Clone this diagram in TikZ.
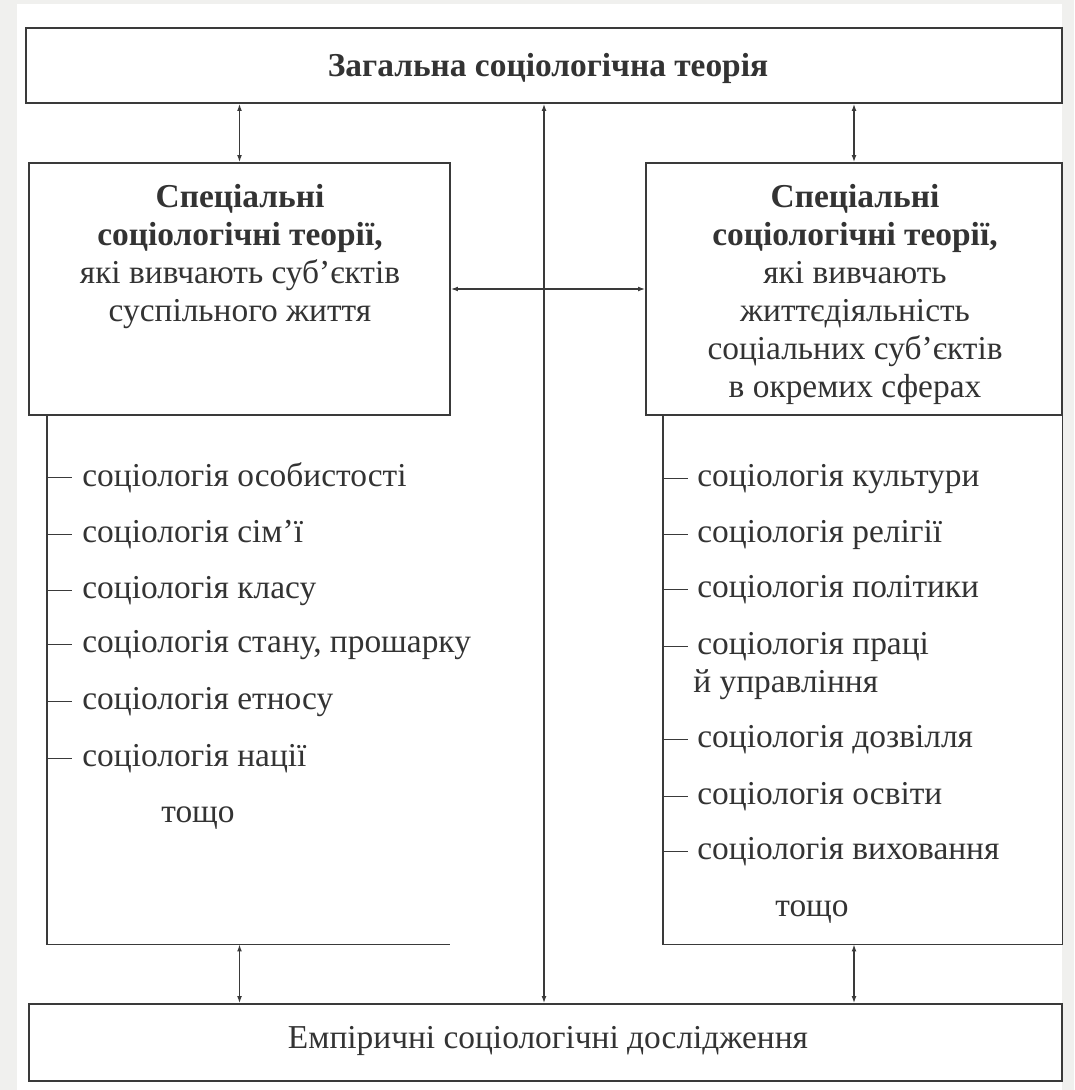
\documentclass[tikz,border=0pt]{standalone}
\usepackage{fontspec}
\setmainfont{Liberation Serif}
\usetikzlibrary{arrows.meta}
\definecolor{bgc}{HTML}{F0F0EE}
\definecolor{linec}{HTML}{3A3A3A}
\definecolor{txtc}{HTML}{333333}
\begin{document}
\begin{tikzpicture}[x=0.5pt,y=-0.5pt,
  box/.style={draw=linec, line width=0.9pt, fill=white, inner sep=0pt},
  panel/.style={inner sep=0pt},
  edge/.style={draw=linec, line width=0.9pt},
  link/.style={draw=linec, line width=0.6pt, {Latex[length=3.5pt,width=2.4pt]}-{Latex[length=3.5pt,width=2.4pt]}},
  tick/.style={draw=linec, line width=0.6pt},
  txt/.style={text=txtc, font=\fontsize{16.7}{19}\selectfont, inner sep=0pt},
  head/.style={txt, align=center},
  item/.style={txt, anchor=base west, align=left}
]
% background and margins
\fill[bgc] (0,0) rectangle (1074,1090);
\fill[white] (17,4) rectangle (1062,1090);
\useasboundingbox (0,0) rectangle (1074,1090);

% main boxes
\node[box, minimum width=518pt, minimum height=37.5pt] (top) at (544,65.5) {};
\node[box, minimum width=210.5pt, minimum height=126pt] (lb) at (239.5,289) {};
\node[box, minimum width=208pt, minimum height=126pt] (rb) at (854,289) {};
\node[box, minimum width=516.5pt, minimum height=38.5pt] (bot) at (545.5,1042.5) {};

% list panels
\node[panel, minimum width=201.5pt, minimum height=264.5pt] (lp) at (248.5,679.5) {};
\node[panel, minimum width=199.5pt, minimum height=264.5pt] (rp) at (862.5,679.5) {};
\draw[edge] (lp.north west) -- (lp.south west) -- (lp.south east);
\draw[edge] (rp.north west) -- (rp.south west) -- (rp.south east) -- (rp.north east);

% texts in boxes
\node[txt, font=\fontsize{16.7}{19}\selectfont\bfseries] (toptxt) at (548,68) {Загальна соціологічна теорія};
\node[txt] (bottxt) at (548,1041) {Емпіричні соціологічні дослідження};
\node[head] (lbt) at (240,257) {\textbf{Спеціальні}\\\textbf{соціологічні теорії,}\\які вивчають суб’єктів\\суспільного життя};
\node[head] (rbt) at (855,294) {\textbf{Спеціальні}\\\textbf{соціологічні теорії,}\\які вивчають\\життєдіяльність\\соціальних суб’єктів\\в окремих сферах};

% connectors
\draw[link] (lb.north) -- (lb.north |- top.south);
\draw[link] (rb.north) -- (rb.north |- top.south);
\draw[link] (top.south) -- (top.south |- bot.north);
\draw[link] (lb.east) -- (rb.west);
\draw[link] (lb.south |- lp.south) -- (lb.south |- bot.north);
\draw[link] (rb.south |- rp.south) -- (rb.south |- bot.north);

% left list
\node[item] (l1) at (82,486) {соціологія особистості};
\node[item] (l2) at (82,542) {соціологія сім’ї};
\node[item] (l3) at (82,598) {соціологія класу};
\node[item] (l4) at (82,652) {соціологія стану, прошарку};
\node[item] (l5) at (82,709) {соціологія етносу};
\node[item] (l6) at (82,766) {соціологія нації};
\node[txt, anchor=base] (l7) at (198,822) {тощо};
\foreach \n in {l1,l2,l3,l4,l5,l6}
  \draw[tick] (lp.west |- \n.west) -- ++(25,0);

% right list
\node[item] (r1) at (697,486) {соціологія культури};
\node[item] (r2) at (697,542) {соціологія релігії};
\node[item] (r3) at (697,597) {соціологія політики};
\node[item] (r4) at (697,654) {соціологія праці};
\node[item] (r4b) at (693,692) {й управління};
\node[item] (r5) at (697,747) {соціологія дозвілля};
\node[item] (r6) at (697,804) {соціологія освіти};
\node[item] (r7) at (697,859) {соціологія виховання};
\node[txt, anchor=base] (r8) at (812,916) {тощо};
\foreach \n in {r1,r2,r3,r4,r5,r6,r7}
  \draw[tick] (rp.west |- \n.west) -- ++(25,0);
\end{tikzpicture}
\end{document}
